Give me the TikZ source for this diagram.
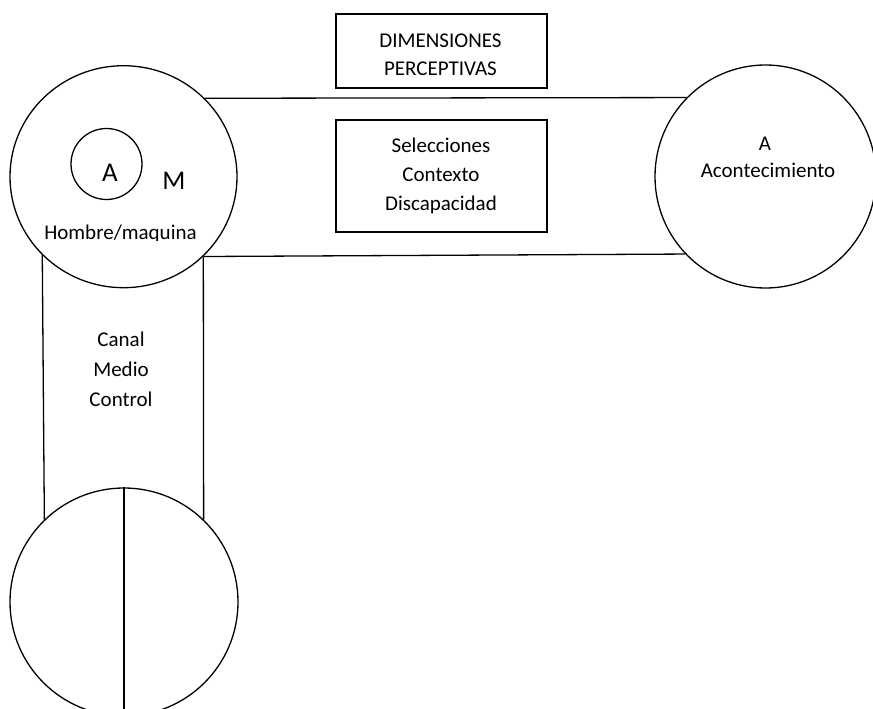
\documentclass[tikz,border=0pt]{standalone}
\usepackage{fontspec}
\setmainfont{Carlito}
\usetikzlibrary{shapes.geometric}
\tikzset{
  ring/.style={draw, line width=1.3pt, inner sep=0pt},
  oval/.style={ring, ellipse},
  labelbox/.style={draw, line width=1.3pt, minimum width=211pt},
  txt/.style={anchor=base, inner sep=0pt, font=\fontsize{21}{29}\selectfont},
  bigtxt/.style={anchor=base, inner sep=0pt, font=\fontsize{27}{30}\selectfont},
  link/.style={line width=1.3pt}
}
\begin{document}
\begin{tikzpicture}[x=1pt, y=-1pt]
  \useasboundingbox (0,0) rectangle (873,709);
  \clip (0,0) rectangle (873,709);

  % man/machine circle with its inner event circle
  \node[oval, minimum width=227pt, minimum height=222pt] (hm) at (123.5,176.7) {};
  \node[ring, circle, minimum size=71pt] (ia) at (106.5,164) {};
  \node[bigtxt] (iaA) at (110,181) {A};
  \node[bigtxt] (mM) at (174,189.5) {M};
  \begin{scope}
    % the caption sits in a text frame that cuts off its descenders
    \clip (0,200) rectangle (873,240);
    \node[txt] (hmt) at (120.5,239) {Hombre/maquina};
  \end{scope}

  % event circle
  \node[oval, minimum width=221pt, minimum height=223pt] (ac) at (765.5,176.5) {};
  \node[txt] (acA) at (765,150) {A};
  \node[txt] (act) at (768,177) {Acontecimiento};

  % lower split circle
  \node[ring, circle, minimum size=228pt] (bt) at (124,602) {};
  \draw[link] (bt.north) -- (bt.south);

  % boxes and their captions
  \node[labelbox, minimum height=74pt] (dp) at (441.5,51) {};
  \node[txt] (dp1) at (440.5,47.3) {DIMENSIONES};
  \node[txt] (dp2) at (440.5,75.3) {PERCEPTIVAS};

  \node[labelbox, minimum height=112pt] (sc) at (441.5,176) {};
  \node[txt] (sc1) at (441,152.5) {Selecciones};
  \node[txt] (sc2) at (441,181.5) {Contexto};
  \node[txt] (sc3) at (441,210.5) {Discapacidad};

  % channel caption
  \node[txt] (cm1) at (121,346) {Canal};
  \node[txt] (cm2) at (121,376) {Medio};
  \node[txt] (cm3) at (121,406) {Control};

  % connecting bands
  \draw[link] (hm.44.2) -- (ac.135.2);
  \draw[link] (hm.315.8) -- (ac.224.8);
  \draw[link] (hm.224.2) -- (bt.134.3);
  \draw[link] (hm.315.8) -- (bt.46);
\end{tikzpicture}
\end{document}
